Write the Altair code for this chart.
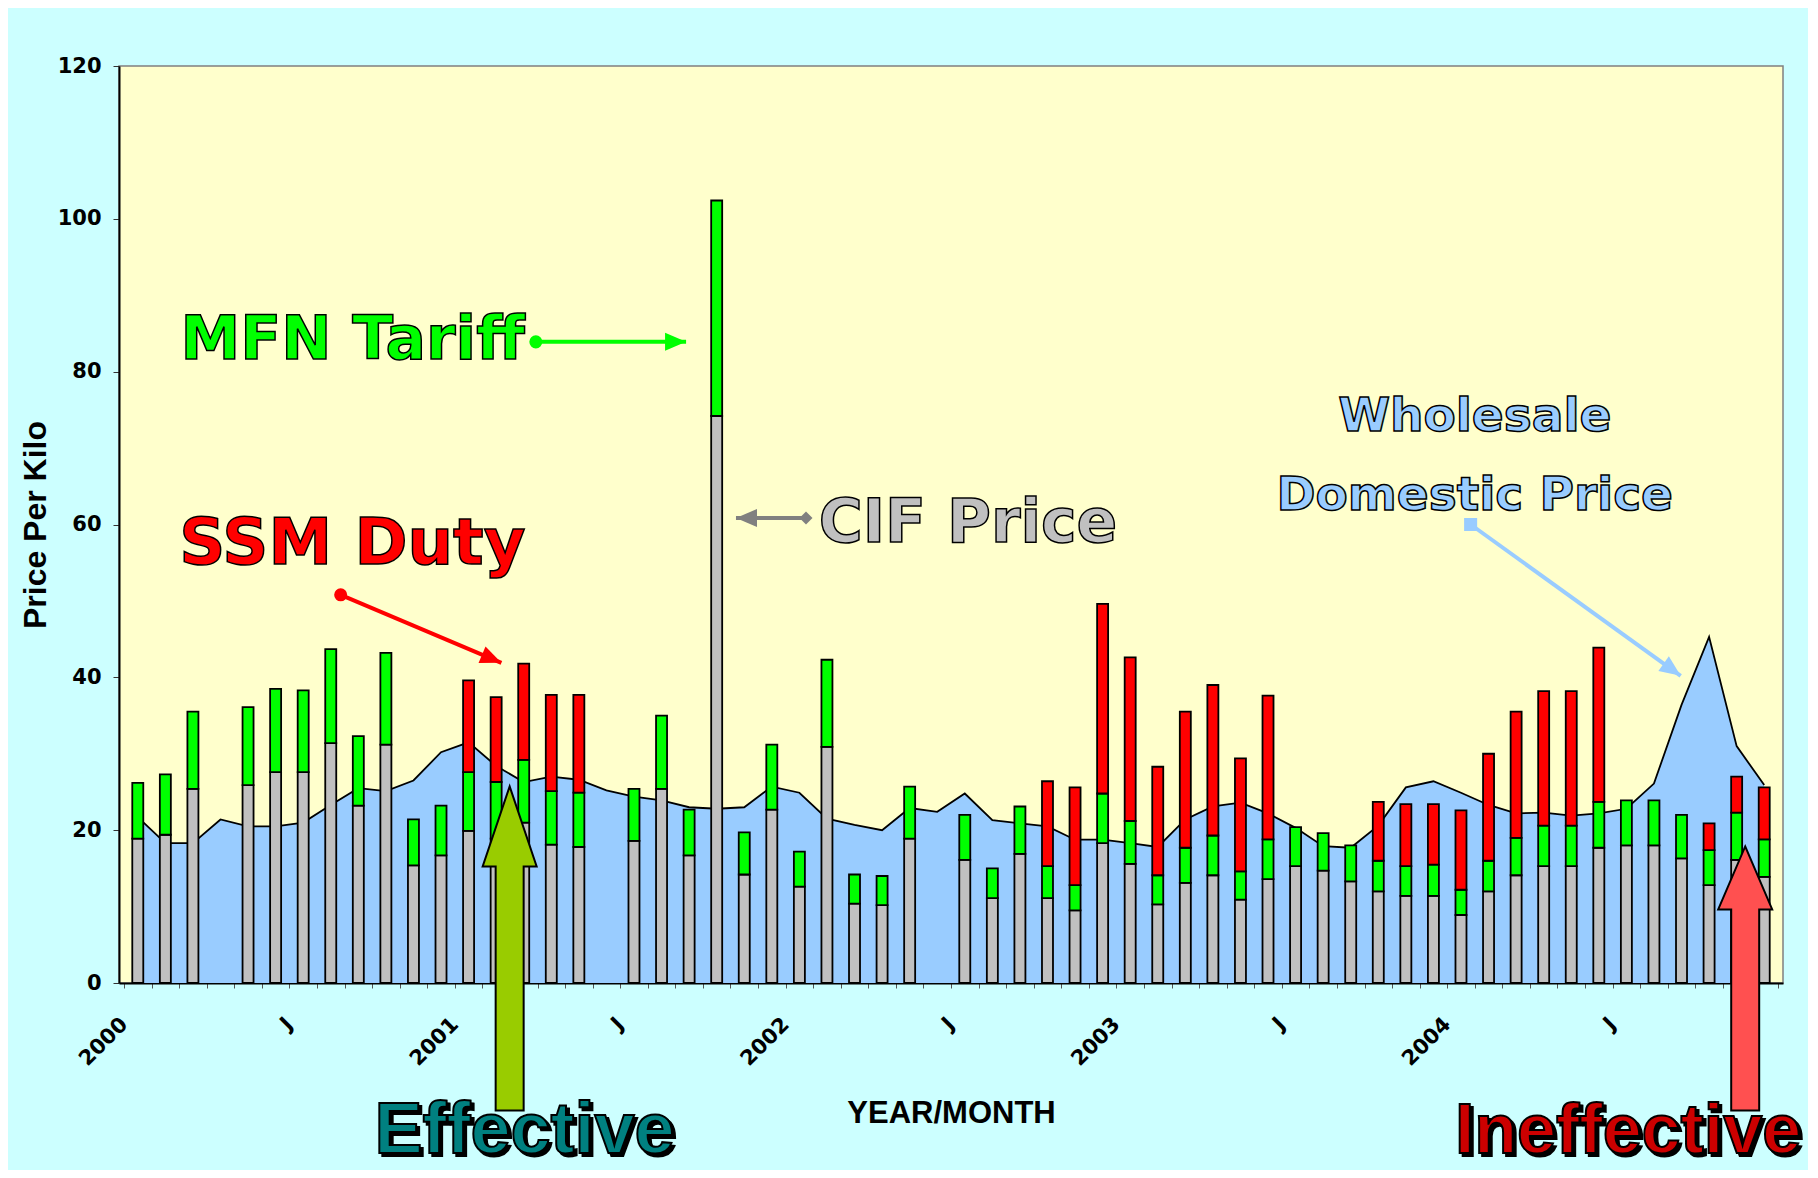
import json
import altair as alt
import pandas as pd

# ---------------- data ----------------
months = list(range(60))  # Jan 2000 .. Dec 2004
tick_labels = ["2000", "J", "2001", "J", "2002", "J", "2003", "J", "2004", "J"]

cif = [18.9, 19.4, 25.4, None, 25.9, 27.6, 27.6, 31.4, 23.2, 31.2, 15.4, 16.7,
       19.9, 18.9, 21.0, 18.1, 17.8, None, 18.6, 25.4, 16.7, 74.2, 14.2, 22.7,
       12.6, 30.9, 10.4, 10.2, 18.9, None, 16.1, 11.1, 16.9, 11.1, 9.5, 18.3,
       15.6, 10.3, 13.1, 14.1, 10.9, 13.6, 15.3, 14.7, 13.3, 12.0, 11.4, 11.4,
       8.9, 12.0, 14.1, 15.3, 15.3, 17.7, 18.0, 18.0, 16.3, 12.8, 16.1, 13.9]
mfn = [7.3, 7.9, 10.1, None, 10.2, 10.9, 10.7, 12.3, 9.1, 12.0, 6.0, 6.5,
       7.7, 7.4, 8.2, 7.0, 7.1, None, 6.8, 9.6, 6.0, 28.2, 5.5, 8.5,
       4.6, 11.4, 3.8, 3.8, 6.8, None, 5.9, 3.9, 6.2, 4.2, 3.3, 6.5,
       5.6, 3.8, 4.6, 5.2, 3.7, 5.2, 5.1, 4.9, 4.7, 4.0, 3.9, 4.1,
       3.3, 4.0, 4.9, 5.3, 5.3, 6.0, 5.9, 5.9, 5.7, 4.6, 6.2, 4.9]
ssm = [0, 0, 0, None, 0, 0, 0, 0, 0, 0, 0, 0,
       12.0, 11.1, 12.6, 12.6, 12.8, None, 0, 0, 0, 0, 0, 0,
       0, 0, 0, 0, 0, None, 0, 0, 0, 11.1, 12.8, 24.8,
       21.4, 14.2, 17.8, 19.7, 14.8, 18.8, 0, 0, 0, 7.7, 8.1, 7.9,
       10.4, 14.0, 16.5, 17.6, 17.6, 20.2, 0, 0, 0, 3.5, 4.7, 6.8]
domestic = [21.7, 18.3, 18.3, 21.4, 20.5, 20.5, 21.0, 23.3, 25.5, 25.1, 26.5, 30.2,
            31.5, 28.4, 26.3, 27.0, 26.6, 25.2, 24.4, 23.9, 23.0, 22.8, 23.0, 25.7,
            24.9, 21.5, 20.7, 20.0, 22.9, 22.4, 24.8, 21.3, 20.9, 20.5, 18.75, 18.75,
            18.3, 17.8, 21.4, 23.1, 23.6, 22.2, 20.3, 17.9, 17.7, 20.6, 25.6, 26.4,
            24.9, 23.3, 22.2, 22.3, 21.9, 22.2, 22.8, 26.1, 36.4, 45.3, 31.0, 25.9]

series_names = ["CIF Price", "MFN Tariff", "SSM Duty"]
series_colors = ["#C0C0C0", "#00FF00", "#FF0000"]

# annotation texts (x in months, y in price units)
ann_text = ["MFN Tariff", "SSM Duty", "CIF Price", "Wholesale", "Domestic Price"]
ann_x = [2.05, 2.0, 25.2, 49.0, 49.0]
ann_y = [81.7, 54.8, 57.7, 72.2, 61.9]
ann_fill = ["#00FF00", "#FF0000", "#C0C0C0", "#99CCFF", "#99CCFF"]
ann_size = [60, 64, 60, 47, 47]
ann_align = ["left", "left", "left", "center", "center"]

# pointer arrows: start (dot) -> tip
arr_x = [14.94, 7.86, 24.74, 48.85]
arr_y = [83.9, 50.8, 60.85, 60.0]
arr_x2 = [20.39, 13.69, 22.2, 56.47]
arr_y2 = [83.9, 41.9, 60.85, 40.2]
arr_color = ["#00FF00", "#FF0000", "#808080", "#99CCFF"]
arr_dot = ["circle", "circle", "diamond", "square"]
arr_angle = [90, 112.8, 270, 125.6]

# big verdict arrows and words
big_x = [13.99, 58.81]
big_y = [25.73, 17.87]
big_color = ["#99CC00", "#FF5050"]
big_path = ["M0,0 L27,80 L14,80 L14,324 L-14,324 L-14,80 L-27,80 Z",
            "M0,0 L27,63 L14,63 L14,264 L-14,264 L-14,63 L-27,63 Z"]
verdict_text = ["Effective", "Ineffective"]
verdict_x = [14.53, 54.56]
verdict_y = [-22.2, -22.2]
verdict_fill = ["#008080", "#CC0000"]
verdict_size = [72, 70]

# ---------------- tables ----------------
rows = []
for i in months:
    if cif[i] is None:
        continue
    for o, (name, arr) in enumerate(zip(series_names, (cif, mfn, ssm))):
        v = arr[i]
        if v:
            rows.append({"xc": i + 0.5, "series": name, "value": v, "ord": o})
bars_df = pd.DataFrame(rows)
dom_df = pd.DataFrame({"xc": [i + 0.5 for i in months], "price": domestic})

BOLD = "DejaVu Sans"
SANS = "Liberation Sans, Arial, sans-serif"

x_scale = alt.Scale(domain=[0, 60], nice=False, zero=False)
y_scale = alt.Scale(domain=[0, 120], nice=False)

label_expr = ("datum.value % 6 == 0 && datum.value < 60 ? "
              + json.dumps(tick_labels) + "[datum.value / 6] : ''")

x_axis = alt.Axis(values=list(range(61)), labelExpr=label_expr, title="YEAR/MONTH")
y_axis = alt.Axis(values=[0, 20, 40, 60, 80, 100, 120], title="Price Per Kilo")


def X(field):
    return alt.X(field, type="quantitative", scale=x_scale, axis=x_axis)


def Y(field, **kw):
    return alt.Y(field, type="quantitative", scale=y_scale, axis=y_axis, **kw)


area = alt.Chart(dom_df).mark_area(color="#99CCFF", opacity=1).encode(
    x=X("xc"), y=Y("price"))
line = alt.Chart(dom_df).mark_line(color="black", strokeWidth=1.8).encode(
    x=X("xc"), y=Y("price"))
bars = alt.Chart(bars_df).mark_bar(size=11, stroke="black", strokeWidth=1.8,
                                   opacity=1).encode(
    x=X("xc"),
    y=Y("value", stack="zero"),
    color=alt.Color("series:N", scale=alt.Scale(domain=series_names, range=series_colors),
                    legend=None),
    order=alt.Order("ord:Q", sort="ascending"))

layers = [area, line, bars]

# pointer arrows
for i in range(len(arr_x)):
    d = pd.DataFrame({"x": [arr_x[i]], "y": [arr_y[i]], "x2": [arr_x2[i]], "y2": [arr_y2[i]]})
    c = arr_color[i]
    layers.append(alt.Chart(d).mark_rule(color=c, strokeWidth=4).encode(
        x=X("x"), y=Y("y"), x2="x2:Q", y2="y2:Q"))
    layers.append(alt.Chart(d).mark_point(shape=arr_dot[i], filled=True, size=170,
                                          color=c, opacity=1).encode(
        x=X("x"), y=Y("y")))
    layers.append(alt.Chart(d).mark_point(shape="M0,0 L9,21 L-9,21 Z", size=4, filled=True,
                                          color=c, opacity=1, angle=arr_angle[i]).encode(
        x=X("x2"), y=Y("y2")))

# annotation words
for i in range(len(ann_text)):
    d = pd.DataFrame({"x": [ann_x[i]], "y": [ann_y[i]], "t": [ann_text[i]]})
    layers.append(alt.Chart(d).mark_text(font=BOLD, fontSize=ann_size[i], fontWeight="bold",
                                         fill=ann_fill[i], stroke="black", strokeWidth=1.5,
                                         align=ann_align[i], baseline="alphabetic").encode(
        x=X("x"), y=Y("y"), text="t:N"))

# big arrows
for i in range(len(big_x)):
    d = pd.DataFrame({"x": [big_x[i]], "y": [big_y[i]]})
    layers.append(alt.Chart(d).mark_point(shape=big_path[i], size=4, filled=True,
                                          color=big_color[i], stroke="black",
                                          strokeWidth=2, opacity=1).encode(
        x=X("x"), y=Y("y")))

# verdict words
for i in range(len(verdict_text)):
    d = pd.DataFrame({"x": [verdict_x[i]], "y": [verdict_y[i]], "t": [verdict_text[i]]})
    layers.append(alt.Chart(d).mark_text(font=SANS, fontSize=verdict_size[i], fontWeight="bold",
                                         fill="black", stroke="black", strokeWidth=2,
                                         align="center", baseline="alphabetic", dx=3, dy=3).encode(
        x=X("x"), y=Y("y"), text="t:N"))
    layers.append(alt.Chart(d).mark_text(font=SANS, fontSize=verdict_size[i], fontWeight="bold",
                                         fill=verdict_fill[i], stroke="black", strokeWidth=2,
                                         align="center", baseline="alphabetic").encode(
        x=X("x"), y=Y("y"), text="t:N"))

chart = alt.layer(*layers).properties(
    width=1664, height=917,
    autosize=alt.AutoSizeParams(type="none"),
    padding={"left": 111, "top": 58, "right": 25, "bottom": 187},
    background="#CCFFFF",
).configure_view(
    fill="#FFFFCC", stroke="#808080", strokeWidth=1.5
).configure_axis(
    grid=False, domainColor="black", domainWidth=2, labelColor="black",
    titleColor="black", titleFontWeight="bold", labelFontWeight="bold",
).configure_axisX(
    labelAngle=315, labelAlign="right", labelBaseline="middle", labelPadding=33,
    labelFont=BOLD, labelFontSize=21, labelFlush=False, labelOverlap=False,
    tickSize=5, tickColor="#555555", tickWidth=1,
    titleFont=SANS, titleFontSize=31, titleY=139, titleBaseline="alphabetic",
).configure_axisY(
    labelFont=BOLD, labelFontSize=21, labelPadding=12, labelAlign="right",
    tickSize=6, tickColor="#333333",
    titleFont=SANS, titleFontSize=32, titleAngle=270, titleX=-84, titleY=458.5,
    titleAlign="center", titleBaseline="middle",
)

chart.save("out.html", embed_options={"renderer": "svg", "actions": False})
